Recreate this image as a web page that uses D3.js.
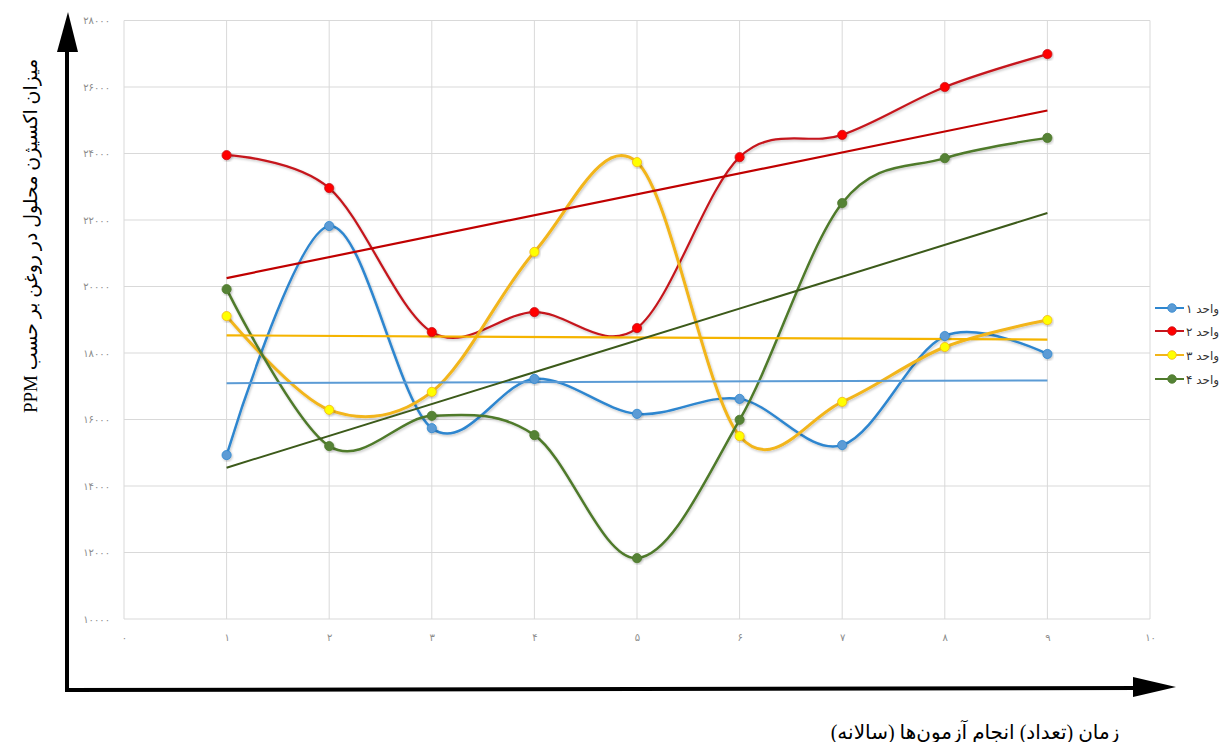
<!DOCTYPE html>
<html>
<head>
<meta charset="utf-8">
<script src="https://cdn.jsdelivr.net/npm/d3@7"></script>
<style>
  html, body { margin: 0; padding: 0; background: #fff; }
  svg { display: block; }
</style>
</head>
<body>
<svg id="chart" width="1221" height="742"></svg>
<script>
// ---- data ----
const xValues = [1, 2, 3, 4, 5, 6, 7, 8, 9];
const unit1 = [14930, 21820, 15740, 17220, 16170, 16620, 15230, 18510, 17970];
const unit2 = [23950, 22960, 18630, 19230, 18750, 23890, 24560, 26000, 26990];
const unit3 = [19110, 16290, 16830, 21040, 23740, 15500, 16530, 18180, 18990];
const unit4 = [19920, 15200, 16110, 15530, 11830, 15990, 22510, 23860, 24470];
const seriesNames = ["واحد ۱", "واحد ۲", "واحد ۳", "واحد ۴"];
const xTicks = [0, 1, 2, 3, 4, 5, 6, 7, 8, 9, 10];
const yTicks = [10000, 12000, 14000, 16000, 18000, 20000, 22000, 24000, 26000, 28000];
const yTitle = "میزان اکسیژن محلول در روغن بر حسب PPM";
const xTitle = "زمان (تعداد) انجام آزمون‌ها (سالانه)";

const styles = [
  {line: "#2e86cf", marker: "#5b9bd5", trend: "#5b9bd5", w: 2.5, tw: 2},
  {line: "#c5161d", marker: "#ff0000", trend: "#c00000", w: 2.2, tw: 2.2},
  {line: "#f2b51a", marker: "#ffff00", trend: "#f5b400", w: 3, tw: 2.2},
  {line: "#4f7a2c", marker: "#548235", trend: "#3c5a1a", w: 2.5, tw: 2}
];
const allSeries = [unit1, unit2, unit3, unit4];

const fa = s => String(s).replace(/[0-9]/g, d => "۰۱۲۳۴۵۶۷۸۹"[+d]);

const svg = d3.select("#chart");
const x = d3.scaleLinear().domain([0, 10]).range([124, 1150]);
const y = d3.scaleLinear().domain([10000, 28000]).range([619, 20.5]);

const defs = svg.append("defs");
const f = defs.append("filter").attr("id", "sh").attr("x", "-20%").attr("y", "-20%").attr("width", "140%").attr("height", "140%");
f.append("feDropShadow").attr("dx", 1).attr("dy", 1.5).attr("stdDeviation", 1).attr("flood-color", "#000").attr("flood-opacity", 0.22);

// grid
const grid = svg.append("g");
grid.selectAll("line.h").data(yTicks).join("line")
  .attr("x1", x(0)).attr("x2", x(10))
  .attr("y1", d => y(d)).attr("y2", d => y(d))
  .attr("stroke", "#d9d9d9").attr("stroke-width", 1);
grid.selectAll("line.v").data(xTicks).join("line")
  .attr("x1", d => x(d)).attr("x2", d => x(d))
  .attr("y1", y(10000)).attr("y2", y(28000))
  .attr("stroke", "#d9d9d9").attr("stroke-width", 1);

// axes tick labels via d3 axes (no domain/ticks lines)
const yAxis = svg.append("g").attr("transform", `translate(${x(0) - 11},0)`)
  .call(d3.axisLeft(y).tickValues(yTicks).tickSize(0).tickFormat(d => fa(d)));
yAxis.select(".domain").remove();
yAxis.selectAll("text").attr("fill", "#8c8c8c").attr("font-size", 10)
  .attr("font-family", "DejaVu Sans, sans-serif").attr("direction", "ltr");

const xAxis = svg.append("g").attr("transform", `translate(0,${y(10000) + 12})`)
  .call(d3.axisBottom(x).tickValues(xTicks).tickSize(0).tickFormat(d => fa(d)));
xAxis.select(".domain").remove();
xAxis.selectAll("text").attr("fill", "#8c8c8c").attr("font-size", 10)
  .attr("font-family", "DejaVu Sans, sans-serif").attr("direction", "ltr");

// trend lines (least squares, as in spreadsheet trendline)
function regress(vals) {
  const mx = d3.mean(xValues), my = d3.mean(vals);
  let sxy = 0, sxx = 0;
  vals.forEach((v, i) => { sxy += (xValues[i] - mx) * (v - my); sxx += (xValues[i] - mx) ** 2; });
  const b = sxy / sxx, a = my - b * mx;
  return xv => a + b * xv;
}

const curve = d3.curveCardinal.tension(0);
const lineGen = d3.line().x((d, i) => x(xValues[i])).y(d => y(d)).curve(curve);

const plot = svg.append("g");
allSeries.forEach((vals, k) => {
  plot.append("path").datum(vals)
    .attr("d", lineGen)
    .attr("fill", "none").attr("stroke", styles[k].line)
    .attr("stroke-width", styles[k].w).attr("filter", "url(#sh)");
});
allSeries.forEach((vals, k) => {
  const fn = regress(vals);
  const ends = [xValues[0], xValues[xValues.length - 1]];
  plot.append("line")
    .attr("x1", x(ends[0])).attr("y1", y(fn(ends[0])))
    .attr("x2", x(ends[1])).attr("y2", y(fn(ends[1])))
    .attr("stroke", styles[k].trend).attr("stroke-width", styles[k].tw);
});
allSeries.forEach((vals, k) => {
  plot.selectAll(null).data(vals).join("circle")
    .attr("cx", (d, i) => x(xValues[i])).attr("cy", d => y(d))
    .attr("r", 4.6).attr("fill", styles[k].marker)
    .attr("stroke", styles[k].line).attr("stroke-width", 0.8)
    .attr("filter", "url(#sh)");
});

// big arrows
svg.append("line").attr("x1", 67).attr("y1", 690).attr("x2", 67).attr("y2", 45)
  .attr("stroke", "#000").attr("stroke-width", 4);
svg.append("path").attr("d", "M57,52 L68,12 L78,52 Z").attr("fill", "#000");
svg.append("line").attr("x1", 65).attr("y1", 690).attr("x2", 1140).attr("y2", 688)
  .attr("stroke", "#000").attr("stroke-width", 4);
svg.append("path").attr("d", "M1133,677 L1176,687 L1133,697 Z").attr("fill", "#000");

// axis titles
svg.append("text")
  .attr("transform", "translate(37,236) rotate(-90)")
  .attr("text-anchor", "middle")
  .attr("direction", "rtl")
  .attr("font-family", "Liberation Serif, DejaVu Sans, serif")
  .attr("font-size", 19).attr("fill", "#000")
  .text(yTitle);
svg.append("text")
  .attr("x", 975).attr("y", 739)
  .attr("text-anchor", "middle")
  .attr("direction", "rtl")
  .attr("font-family", "Liberation Serif, DejaVu Sans, serif")
  .attr("font-size", 20).attr("fill", "#000")
  .text(xTitle);

// legend
const legY = [308, 331, 355, 379];
const leg = svg.append("g");
seriesNames.forEach((name, k) => {
  const g = leg.append("g").attr("transform", `translate(0,${legY[k]})`);
  g.append("line").attr("x1", 1155).attr("x2", 1184).attr("y1", 0).attr("y2", 0)
    .attr("stroke", styles[k].line).attr("stroke-width", 2);
  g.append("circle").attr("cx", 1172).attr("cy", 0).attr("r", 4.3)
    .attr("fill", styles[k].marker).attr("stroke", styles[k].line).attr("stroke-width", 0.8);
  g.append("text").attr("x", 1186).attr("y", 4.5)
    .attr("font-family", "DejaVu Sans, sans-serif").attr("font-size", 12)
    .attr("fill", "#333").text(name);
});
</script>
</body>
</html>
